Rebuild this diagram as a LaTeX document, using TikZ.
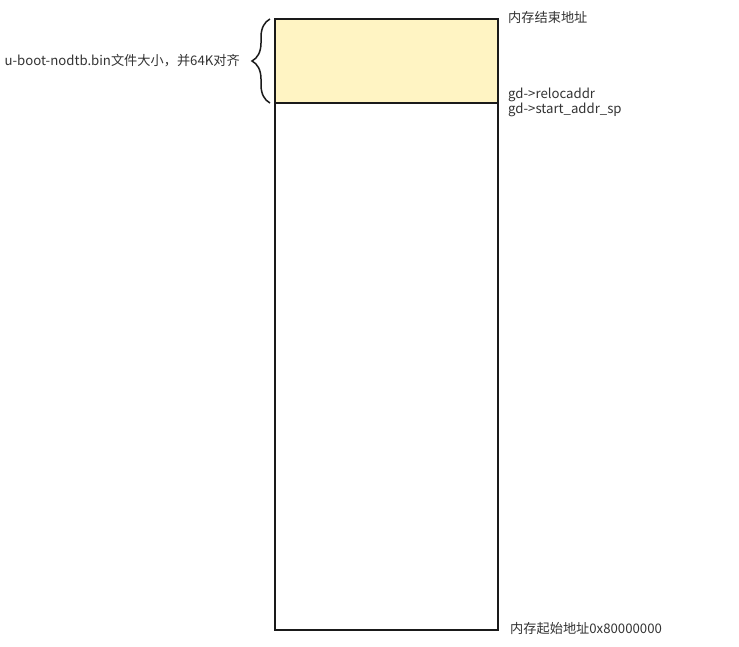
\documentclass[tikz,border=0pt]{standalone}
\usepackage{fontspec}
\setmainfont{Noto Sans CJK SC}
\usetikzlibrary{decorations.pathreplacing}
\definecolor{memyellow}{HTML}{FFF4C3}
\definecolor{memline}{HTML}{1A1A1A}
\definecolor{labeltext}{HTML}{333333}
\begin{document}
\begin{tikzpicture}[x=1pt,y=-1pt,
  memblock/.style={draw=memline,line width=1.3pt,minimum width=223pt,inner sep=0pt,outer sep=0pt},
  lbl/.style={inner sep=0pt,anchor=west,font=\fontsize{13.2}{15}\selectfont,text=labeltext},
  bracestyle/.style={draw=memline,line width=1.5pt,decorate,decoration={brace,amplitude=18pt,aspect=0.5}}]
\useasboundingbox (0,0) rectangle (739,647);
\node[memblock,fill=memyellow,minimum height=84pt,anchor=north west] (top) at (275,19) {};
\node[memblock,fill=white,minimum height=527pt,anchor=north west] (bottom) at (275,103) {};
\node[lbl] (endaddr) at (508,17) {内存结束地址};
\node[lbl] (reloc) at (508,95) {gd->relocaddr};
\node[lbl] (sp) at (508,110) {gd->start\_addr\_sp};
\node[lbl] (startaddr) at (510,629) {内存起始地址0x80000000};
\coordinate (bb) at ([xshift=-5pt]top.south west);
\coordinate (bt) at ([xshift=-5pt]top.north west);
\draw[bracestyle] (bb) -- (bt);
\node[lbl,anchor=east] (size) at (240,61) {u-boot-nodtb.bin文件大小，并64K对齐};
\end{tikzpicture}
\end{document}
